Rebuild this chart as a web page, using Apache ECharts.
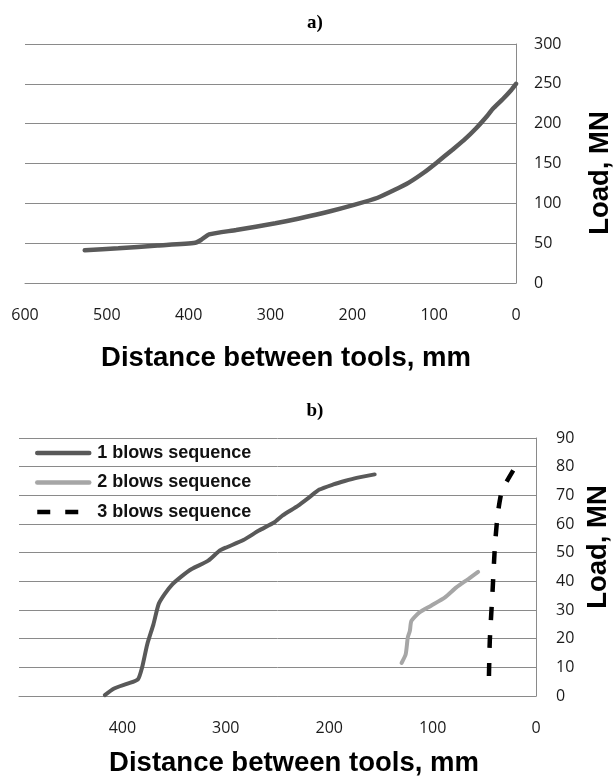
<!DOCTYPE html>
<html>
<head>
<meta charset="utf-8">
<script src="https://cdn.jsdelivr.net/npm/echarts@6/dist/echarts.min.js"></script>
<style>
html,body{margin:0;padding:0;background:#fff;}
#c{width:615px;height:778px;}
</style>
</head>
<body>
<div id="c"></div>
<script>
// ---- Chart a) data ----
var distA = [527, 486, 438, 392, 385, 375, 342, 294, 265, 227, 198, 169, 150, 131, 112, 97, 78, 64, 49, 35, 28, 16, 6, 0];
var loadA = [41, 43.5, 47, 50.5, 54, 61, 66.5, 75, 81, 90, 98, 107, 116, 126, 139, 151, 167, 179, 194, 210, 219, 231, 242, 250];

// ---- Chart b) data ----
var seriesNames = ['1 blows sequence', '2 blows sequence', '3 blows sequence'];
var dist1 = [417, 408, 395, 385, 381, 376, 370, 365, 359, 351.5, 344, 333, 317, 306, 299, 283, 268, 253, 245, 230, 219, 209.5, 196, 185, 173.5, 156];
var load1 = [0.3, 2.6, 4.3, 5.8, 9.9, 18, 25, 32, 35.6, 39, 41.4, 44.3, 47.2, 50.7, 51.9, 54.4, 57.7, 60.6, 63, 66.4, 69.4, 72, 73.8, 75, 76.1, 77.3];
var dist2 = [130, 126, 124, 122, 120.5, 113, 101.5, 88, 77, 65.5, 56];
var load2 = [11.5, 14.6, 20.4, 22.7, 26.2, 29.1, 31.5, 34.4, 37.9, 40.8, 43.3];
var dist3 = [45.5, 44.7, 42, 39.8, 37, 33, 27.7, 22];
var load3 = [7, 19.2, 36.7, 51.9, 63.5, 71.7, 75.2, 78.7];

// ---- Text ----
var titleA = 'a)';
var titleB = 'b)';
var xName = 'Distance between tools, mm';
var yName = 'Load, MN';

function zip(xs, ys) { return xs.map(function (x, i) { return [x, ys[i]]; }); }

var gridColor = '#8a8a8a';
var labelStyle = { fontFamily: 'Open Sans', fontSize: 16, color: '#1a1a1a' };
var nameFont = 'bold 27.5px "Liberation Sans", Arial, sans-serif';

var chart = echarts.init(document.getElementById('c'), null, { renderer: 'canvas' });
chart.setOption({
  backgroundColor: '#fff',
  animation: false,
  grid: [
    { left: 25, right: 99, top: 44, bottom: 495 },
    { left: 19, right: 79, top: 438, bottom: 82 }
  ],
  xAxis: [
    {
      gridIndex: 0, type: 'value', inverse: true, min: 0, max: 600, interval: 100,
      axisLine: { show: true, lineStyle: { color: gridColor, width: 1 } },
      axisTick: { show: false }, splitLine: { show: false },
      axisLabel: Object.assign({ margin: 24 }, labelStyle)
    },
    {
      gridIndex: 1, type: 'value', inverse: true, min: 0, max: 500, interval: 100,
      axisLine: { show: true, lineStyle: { color: gridColor, width: 1 } },
      axisTick: { show: false }, splitLine: { show: false },
      axisLabel: Object.assign({ margin: 24, formatter: function (v) { return v === 500 ? '' : String(v); } }, labelStyle)
    }
  ],
  yAxis: [
    {
      gridIndex: 0, type: 'value', position: 'right', min: 0, max: 300, interval: 50,
      axisLine: { show: true, lineStyle: { color: gridColor, width: 1 } },
      axisTick: { show: false },
      splitLine: { show: true, lineStyle: { color: gridColor, width: 1 } },
      axisLabel: Object.assign({ margin: 18 }, labelStyle)
    },
    {
      gridIndex: 1, type: 'value', position: 'right', min: 0, max: 90, interval: 10,
      axisLine: { show: true, lineStyle: { color: gridColor, width: 1 } },
      axisTick: { show: false },
      splitLine: { show: true, lineStyle: { color: gridColor, width: 1 } },
      axisLabel: Object.assign({ margin: 20 }, labelStyle)
    }
  ],
  legend: {
    data: seriesNames,
    orient: 'vertical',
    left: 30, top: 439,
    itemWidth: 52, itemHeight: 14, itemGap: 11.5,
    itemStyle: { opacity: 0 },
    lineStyle: { width: 4.5 },
    textStyle: { fontFamily: 'Liberation Sans', fontWeight: 'bold', fontSize: 18, lineHeight: 18, color: '#111', padding: [0, 0, 0, 3] }
  },
  series: [
    {
      type: 'line', xAxisIndex: 0, yAxisIndex: 0, data: zip(distA, loadA),
      symbol: 'none', smooth: 0.2,
      lineStyle: { color: '#5a5a5a', width: 4.5, cap: 'round' }
    },
    {
      name: seriesNames[0], type: 'line', xAxisIndex: 1, yAxisIndex: 1, data: zip(dist1, load1),
      symbol: 'none', smooth: 0.2, itemStyle: { color: '#595959' },
      lineStyle: { color: '#595959', width: 4, cap: 'round' }
    },
    {
      name: seriesNames[1], type: 'line', xAxisIndex: 1, yAxisIndex: 1, data: zip(dist2, load2),
      symbol: 'none', smooth: 0.2, itemStyle: { color: '#a6a6a6' },
      lineStyle: { color: '#a6a6a6', width: 4, cap: 'round' }
    },
    {
      name: seriesNames[2], type: 'line', xAxisIndex: 1, yAxisIndex: 1, data: zip(dist3, load3),
      symbol: 'none', smooth: 0.2, itemStyle: { color: '#000' },
      lineStyle: { color: '#000', width: 4.5, type: [13, 15], cap: 'butt' }
    }
  ],
  graphic: [
    { type: 'text', x: 315, y: 23, style: { text: titleA, font: 'bold 19px "Liberation Serif", "Times New Roman", serif', fill: '#000', textAlign: 'center', textVerticalAlign: 'middle' } },
    { type: 'text', x: 315, y: 411, style: { text: titleB, font: 'bold 19px "Liberation Serif", "Times New Roman", serif', fill: '#000', textAlign: 'center', textVerticalAlign: 'middle' } },
    { type: 'text', x: 286, y: 358, style: { text: xName, font: nameFont, fill: '#000', textAlign: 'center', textVerticalAlign: 'middle' } },
    { type: 'text', x: 294, y: 763, style: { text: xName, font: nameFont, fill: '#000', textAlign: 'center', textVerticalAlign: 'middle' } },
    { type: 'text', x: 600, y: 173, rotation: Math.PI / 2, style: { text: yName, font: nameFont, fill: '#000', textAlign: 'center', textVerticalAlign: 'middle' } },
    { type: 'text', x: 598, y: 547, rotation: Math.PI / 2, style: { text: yName, font: nameFont, fill: '#000', textAlign: 'center', textVerticalAlign: 'middle' } }
  ]
});
</script>
</body>
</html>
